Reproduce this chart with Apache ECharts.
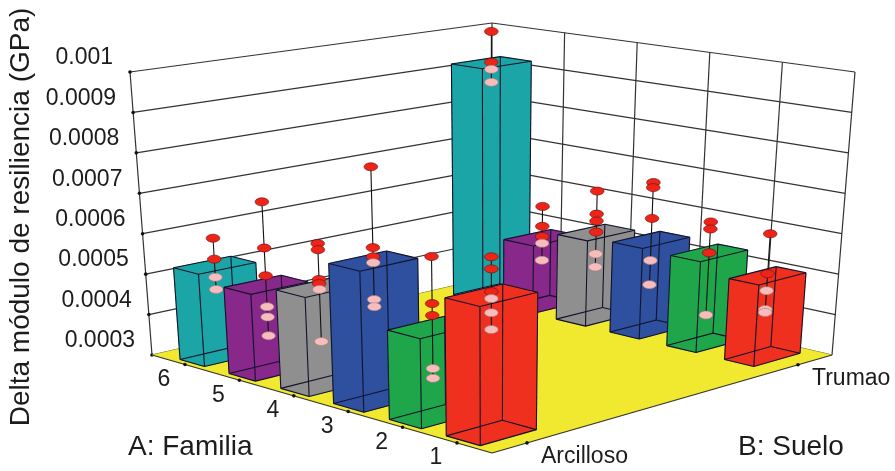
<!DOCTYPE html>
<html>
<head>
<meta charset="utf-8">
<style>html,body{margin:0;padding:0;background:#fff}#c{width:895px;height:471px;filter:blur(0.4px)}</style>
<script src="https://cdn.jsdelivr.net/npm/echarts@6/dist/echarts.min.js"></script>
</head>
<body>
<div id="c"></div>
<script>
// ---- data ----
const families = ['1', '2', '3', '4', '5', '6'];
const soils = ['Arcilloso', 'Trumao'];
const valueTicks = [0.0003, 0.0004, 0.0005, 0.0006, 0.0007, 0.0008, 0.0009, 0.001];
const valueTickLabels = ['0.0003', '0.0004', '0.0005', '0.0006', '0.0007', '0.0008', '0.0009', '0.001'];
const barColors = ['#f0301f', '#1fa54a', '#2f4f9f', '#8f8f8f', '#87288a', '#1ca5a6'];
const meansArcilloso = [0.00062, 0.00051, 0.000633, 0.000537, 0.00051, 0.000526];
const meansTrumao = [0.0005, 0.000527, 0.00053, 0.00052, 0.000477, 0.00092];
const pointsArcilloso = [
  [0.000709, 0.000681, 0.000628, 0.000612, 0.000579, 0.00054],
  [0.000677, 0.000566, 0.000538, 0.000413, 0.00039],
  [0.000858, 0.000665, 0.000643, 0.000629, 0.000541, 0.000524],
  [0.000643, 0.000628, 0.000556, 0.000546, 0.000532, 0.000406],
  [0.000713, 0.0006, 0.000532, 0.000456, 0.000431, 0.000385],
  [0.000593, 0.000541, 0.000496, 0.000466]
];
const pointsTrumao = [
  [0.000604, 0.000505, 0.000463, 0.000416, 0.000409],
  [0.000605, 0.000587, 0.000527, 0.00037],
  [0.000677, 0.000664, 0.000585, 0.000477, 0.000415],
  [0.000628, 0.000568, 0.00055, 0.000521, 0.000464, 0.00043],
  [0.00056, 0.000507, 0.00048, 0.000462, 0.000417],
  [0.001004, 0.000921, 0.000902, 0.000867]
];

// ---- view of the box: where its 8 corners appear ----
const corner = {
  F: [492, 453], L: [152, 355], R: [832, 355], B: [492, 277],
  FT: [492, 147], LT: [130, 72], RT: [855, 72], BT: [492, 23]
};
const FONT = '"Liberation Sans", Arial, sans-serif';
const tickDepth = f => 0.103 + 0.16 * (f - 1);   // tick marks along the front edge
const barDepth = [0.105, 0.275, 0.442, 0.6, 0.755, 0.902]; // perspective spacing of the bar rows
const tvOf = s => 0.103 + 0.797 * s;
const tzOf = z => (z - 0.0003) / 0.0007;
function boxPoint(tu, tv, tz) {
  const mix = k =>
    (1 - tz) * ((1 - tu) * (1 - tv) * corner.F[k] + tu * (1 - tv) * corner.L[k] + (1 - tu) * tv * corner.R[k] + tu * tv * corner.B[k]) +
    tz * ((1 - tu) * (1 - tv) * corner.FT[k] + tu * (1 - tv) * corner.LT[k] + (1 - tu) * tv * corner.RT[k] + tu * tv * corner.BT[k]);
  return [mix(0), mix(1)];
}
const rawProj = (api, tu, tv, z) => api.coord(boxPoint(tu, tv, tzOf(z)));

const halfDepth = (f, s) => s === 1 ? 0.043 : 0.05 - (f - 1) * 0.0028;
const halfSoil = [0.0825, 0.068];
const GRID = '#333333';
const line = (a, b, c, w) => ({ type: 'line', shape: { x1: a[0], y1: a[1], x2: b[0], y2: b[1] }, style: { stroke: c, lineWidth: w }, silent: true });
const poly = (pts, c) => ({ type: 'polygon', shape: { points: pts }, style: { fill: c, stroke: c, lineWidth: 0.5 }, silent: true });
const dot = p => ({ type: 'circle', shape: { cx: p[0], cy: p[1], r: 1.8 }, style: { fill: '#111' }, silent: true });
const txt = (t, p, size, align) => ({ type: 'text', style: { text: t, x: p[0], y: p[1], font: size + 'px ' + FONT, fill: '#1c1c1c', align: align, verticalAlign: 'middle' }, silent: true });

function renderFrame(params, api) {
  const ch = [];
  const lo = valueTicks[0], hi = valueTicks[valueTicks.length - 1];
  [0, 0.2, 0.4, 0.6, 0.8].forEach(t => ch.push(line(rawProj(api, t, 1, lo), rawProj(api, t, 1, hi), GRID, 1.2)));
  ch.push(line(rawProj(api, 1, 0, lo), rawProj(api, 1, 0, hi), GRID, 1.2));
  ch.push(line(rawProj(api, 1, 1, lo), rawProj(api, 1, 1, hi), GRID, 1.2));
  valueTicks.forEach(z => {
    const a = rawProj(api, 1, 0, z), b = rawProj(api, 1, 1, z), c = rawProj(api, 0, 1, z);
    ch.push(line(a, b, GRID, 1.2), line(b, c, GRID, 1.2), dot(a));
  });
  ch.push(poly([rawProj(api, 0, 0, lo), rawProj(api, 1, 0, lo), rawProj(api, 1, 1, lo), rawProj(api, 0, 1, lo)], '#f1e92f'));
  ch.push(line(rawProj(api, 0, 0, lo), rawProj(api, 1, 0, lo), GRID, 1.2));
  ch.push(line(rawProj(api, 0, 0, lo), rawProj(api, 0, 1, lo), GRID, 1.2));
  families.forEach((n, i) => ch.push(dot(rawProj(api, tickDepth(i + 1), 0, lo))));
  soils.forEach((n, i) => ch.push(dot(rawProj(api, 0, tvOf(i), lo))));
  return { type: 'group', children: ch };
}

function renderLabels(params, api) {
  const ch = [];
  const lo = valueTicks[0];
  valueTicks.forEach((z, i) => {
    const p = rawProj(api, 1, 0, z);
    ch.push(txt(valueTickLabels[i], [p[0] - 17, p[1] - 14], 23, 'right'));
  });
  families.forEach((n, i) => {
    const p = rawProj(api, tickDepth(i + 1), 0, lo);
    ch.push(txt(n, [p[0] - 21, p[1] + 15], 23, 'center'));
  });
  soils.forEach((n, i) => {
    const p = rawProj(api, 0, tvOf(i), lo);
    ch.push(txt(n, [p[0] + 14, p[1] + 14], 23, 'left'));
  });
  return { type: 'group', children: ch };
}

function renderBar(params, api) {
  const f = api.value(0), sIdx = api.value(1), z = api.value(2);
  const base = valueTicks[0];
  const tu0 = barDepth[f - 1], tv0 = tvOf(sIdx);
  const hu = halfDepth(f, sIdx), hv = halfSoil[sIdx];
  const P = (du, dv, zz) => rawProj(api, tu0 + du * hu, tv0 + dv * hv, zz);
  const nb = P(-1, -1, base), lb = P(1, -1, base), rb = P(-1, 1, base), bb = P(1, 1, base);
  const nt = P(-1, -1, z), lt = P(1, -1, z), rt = P(-1, 1, z), bt = P(1, 1, z);
  const col = barColors[f - 1];
  const E = '#12122a';
  const ch = [
    poly([lb, nb, nt, lt], col), poly([nb, rb, rt, nt], col), poly([lt, nt, rt, bt], col),
    line(nb, lb, E, 1.1), line(nb, rb, E, 1.1), line(lb, bb, E, 1.1), line(rb, bb, E, 1.1),
    line(nt, lt, E, 1.1), line(nt, rt, E, 1.1), line(lt, bt, E, 1.1), line(rt, bt, E, 1.1),
    line(nb, nt, E, 1.1), line(lb, lt, E, 1.1), line(rb, rt, E, 1.1), line(bb, bt, E, 1.1)
  ];
  const pts = (sIdx === 0 ? pointsArcilloso : pointsTrumao)[f - 1];
  const top = P(0, 0, Math.max.apply(null, pts));
  const bot = P(0, 0, Math.min.apply(null, pts));
  ch.push(line(top, bot, '#111', 1.1));
  pts.forEach(v => {
    const p = P(0, 0, v);
    ch.push({
      type: 'ellipse', shape: { cx: p[0], cy: p[1], rx: 6.8, ry: 4 },
      style: { fill: v >= z ? '#ee2418' : '#f7bcbc', stroke: v >= z ? '#5a1010' : '#a07a7a', lineWidth: 0.6 }, silent: true
    });
  });
  return { type: 'group', children: ch };
}

// far row first, far family first, so that nearer bars paint over
const barData = [];
[1, 0].forEach(s => {
  const means = s === 0 ? meansArcilloso : meansTrumao;
  for (let i = families.length; i >= 1; i--) barData.push([i, s, means[i - 1]]);
});

const chart = echarts.init(document.getElementById('c'), null, { renderer: 'canvas' });
chart.setOption({
  animation: false,
  backgroundColor: '#fff',
  grid: { left: 0, right: 0, top: 0, bottom: 0 },
  xAxis: { type: 'value', min: 0, max: 895, show: false },
  yAxis: { type: 'value', min: 0, max: 471, inverse: true, show: false },
  series: [
    { type: 'custom', name: 'frame', renderItem: renderFrame, data: [[0, 0]], clip: false, silent: true },
    { type: 'custom', name: 'labels', renderItem: renderLabels, data: [[0, 0]], clip: false, silent: true },
    { type: 'custom', name: 'bars', renderItem: renderBar, data: barData, clip: false, silent: true,
      encode: { x: 0, y: 1 } }
  ],
  graphic: [
    { type: 'text', rotation: Math.PI / 2, x: 21, y: 217,
      style: { text: 'Delta módulo de resiliencia (GPa)', font: '28px ' + FONT, fill: '#1c1c1c', align: 'center', verticalAlign: 'middle' } },
    { type: 'text', x: 128, y: 447, style: { text: 'A: Familia', font: '28px ' + FONT, fill: '#1c1c1c', align: 'left', verticalAlign: 'middle' } },
    { type: 'text', x: 738, y: 447, style: { text: 'B: Suelo', font: '28px ' + FONT, fill: '#1c1c1c', align: 'left', verticalAlign: 'middle' } }
  ]
});
</script>
</body>
</html>
